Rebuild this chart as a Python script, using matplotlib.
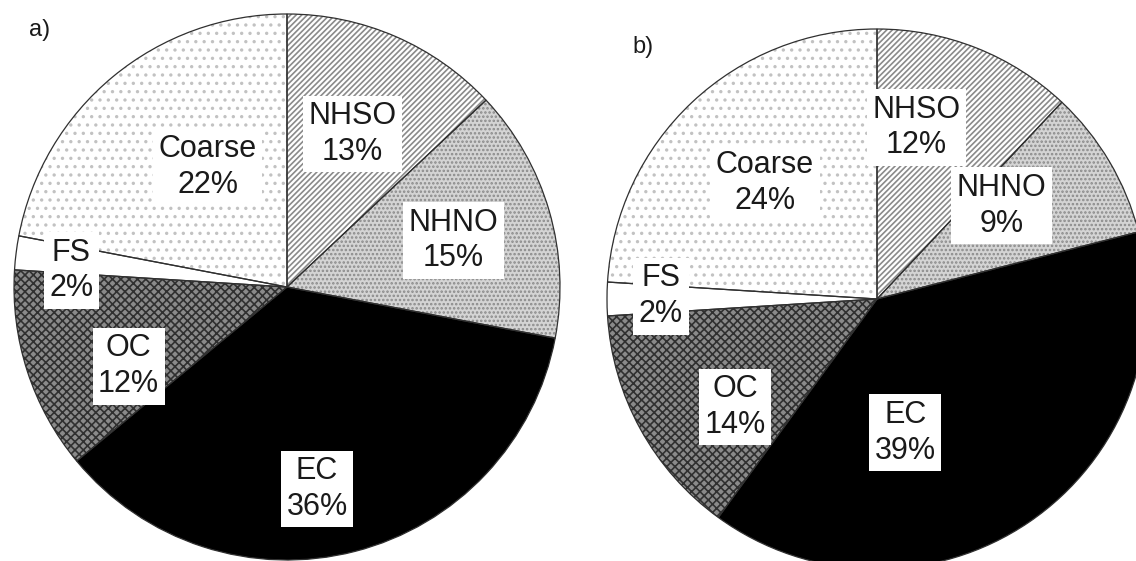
import matplotlib
matplotlib.use("Agg")
import matplotlib.pyplot as plt
import numpy as np

categories = ["NHSO", "NHNO", "EC", "OC", "FS", "Coarse"]
values_a = [13, 15, 36, 12, 2, 22]
values_b = [12, 9, 39, 14, 2, 24]
panel_labels = ["a)", "b)"]

# styles: (facecolor, hatch, hatchcolor)
styles = [
    ("white", "//////", "#8a8a8a"),
    ("#d4d4d4", "....", "#8a8a8a"),
    ("black", None, "black"),
    ("#8a8a8a", "xxxx", "#303030"),
    ("white", None, "white"),
    ("white", "..", "#c2c2c2"),
]

plt.rcParams['font.family'] = ['Liberation Sans', 'DejaVu Sans']
plt.rcParams['hatch.linewidth'] = 1.2

W, H = 1136, 561
fig = plt.figure(figsize=(W / 100, H / 100), dpi=100)
ax = fig.add_axes([0, 0, 1, 1])

# pie geometry in pixel units (y measured from bottom)
pies = [
    dict(values=values_a, center=(287, H - 287), radius=273,
         # label offsets in radius units (dx, dy)
         lab=[(0.24, 0.56), (0.61, 0.17), (0.11, -0.74), (-0.58, -0.29), (-0.79, 0.06), (-0.29, 0.44)],
         panel=(40, H - 30)),
    dict(values=values_b, center=(877, H - 299), radius=270,
         lab=[(0.145, 0.635), (0.46, 0.345), (0.105, -0.495), (-0.525, -0.40), (-0.80, 0.01), (-0.415, 0.43)],
         panel=(643, H - 47)),
]

for p in pies:
    cx, cy = p["center"]
    r = p["radius"]
    wedges, _ = ax.pie(p["values"], startangle=90, counterclock=False,
                       center=(cx, cy), radius=r, frame=True,
                       wedgeprops=dict(linewidth=0))
    for w, (fc, hatch, hc) in zip(wedges, styles):
        w.set_facecolor(fc)
        w.set_edgecolor(hc)
        if hatch:
            w.set_hatch(hatch)
    # outlines
    wedges2, _ = ax.pie(p["values"], startangle=90, counterclock=False,
                        center=(cx, cy), radius=r, frame=True,
                        wedgeprops=dict(fill=False, edgecolor="#303030", linewidth=0.9))
    for name, v, (dx, dy) in zip(categories, p["values"], p["lab"]):
        ax.text(cx + dx * r, cy + dy * r, f"{name}\n{v}%", ha="center", va="center",
                fontsize=22, linespacing=1.25, color="#1a1a1a",
                bbox=dict(boxstyle="square,pad=0.18", facecolor="white", edgecolor="none"))

for p, lbl in zip(pies, panel_labels):
    ax.text(p["panel"][0], p["panel"][1], lbl, ha="center", va="center", fontsize=17, color="#1a1a1a")

ax.set_xlim(0, W)
ax.set_ylim(0, H)
ax.set_aspect("equal")
ax.axis("off")
fig.savefig("out.png", dpi=100)
